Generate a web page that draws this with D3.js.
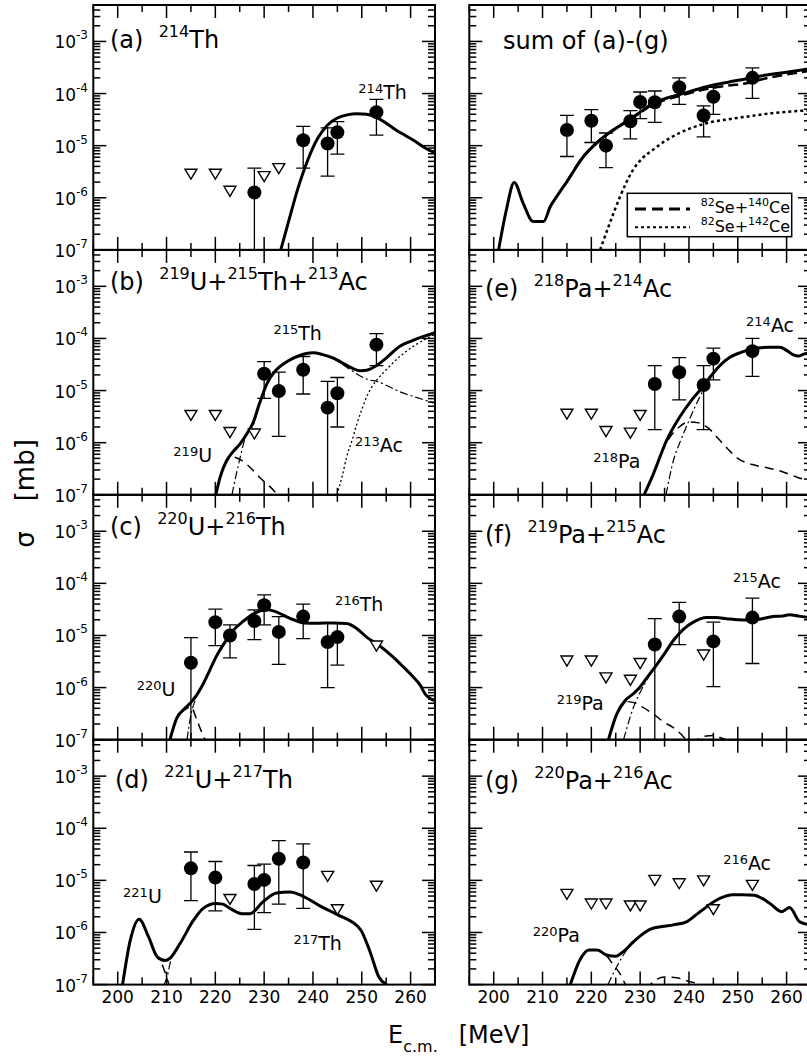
<!DOCTYPE html>
<html>
<head>
<meta charset="utf-8">
<script src="https://cdn.jsdelivr.net/npm/d3@7"></script>
<style>
body { margin: 0; background: #fff; }
svg { display: block; font-family: "DejaVu Sans", sans-serif; }
text { white-space: pre; }
</style>
</head>
<body>
<svg width="807" height="1059"></svg>
<script>
const eDomain = [195, 265];
const sigmaDomain = [1e-7, 5e-3];
const xTickValues = [200, 210, 220, 230, 240, 250, 260];
const yTickExps = [-7, -6, -5, -4, -3];

// measured points: [E, sigma, lower, upper]; limits: [E, sigma]; curves: [E, sigma]
// (a) 214Th
const aMeas = [[228, 1.26e-6, 1e-8, 3.7e-6], [238, 1.27e-5, 3.7e-6, 2.35e-5], [243, 1.1e-5, 2.6e-6, 2.2e-5],
  [245, 1.8e-5, 6.9e-6, 2.9e-5], [253, 4.4e-5, 1.6e-5, 7.7e-5]];
const aLim = [[215, 2.9e-6], [220, 2.9e-6], [223, 1.36e-6], [230, 2.6e-6], [233, 3.7e-6]];
const aTotal = [[233.4, 1e-7], [235, 3.5e-7], [237, 1.6e-6], [239, 5.5e-6], [241, 1.4e-5], [243, 2.5e-5], [245, 3.4e-5],
  [247, 3.9e-5], [249, 4.1e-5], [251, 4.0e-5], [253, 3.5e-5], [255, 2.7e-5], [257, 2.0e-5], [259, 1.55e-5],
  [261, 1.2e-5], [263, 9.0e-6], [265, 7.2e-6]];

// (b) 219U + 215Th + 213Ac
const bMeas = [[230, 2.1e-5, 7.1e-6, 3.6e-5], [233, 9.8e-6, 1.32e-6, 2.25e-5], [238, 2.5e-5, 8.6e-6, 4.5e-5],
  [243, 4.7e-6, 1e-8, 1.5e-5], [245, 8.9e-6, 2.0e-6, 1.78e-5], [253, 7.6e-5, 3.0e-5, 1.24e-4]];
const bLim = [[215, 3.4e-6], [220, 3.4e-6], [223, 1.6e-6], [228, 1.5e-6]];
const bTotal = [[220.1, 1e-7], [221, 2.2e-7], [222.3, 4.5e-7], [223.5, 6.5e-7], [225.1, 9.6e-7], [226.5, 1.5e-6],
  [227.8, 2.5e-6], [229, 5.5e-6], [230.6, 1.38e-5], [232.5, 2.5e-5], [234.7, 3.6e-5], [237, 4.6e-5], [240, 5.3e-5],
  [242, 4.9e-5], [244.2, 4.2e-5], [246, 3.4e-5], [248, 2.7e-5], [249.7, 2.4e-5], [251, 2.45e-5], [253, 3.0e-5],
  [255, 4.2e-5], [257.8, 7.1e-5], [260, 8.8e-5], [262.5, 1.08e-4], [265, 1.29e-4]];
const bU = [[220.1, 1e-7], [221, 2.2e-7], [222.3, 4.4e-7], [223.7, 5.3e-7], [225, 4.8e-7], [226.5, 3.8e-7],
  [227.8, 2.9e-7], [229.2, 2.1e-7], [230.6, 1.6e-7], [232, 1.2e-7], [233, 9e-8]];
const bTh = [[223.4, 1e-7], [224.3, 2.5e-7], [225.1, 5.3e-7], [226.4, 1.5e-6], [227.8, 2.2e-6], [229, 5.3e-6],
  [230.6, 1.36e-5], [232.5, 2.5e-5], [234.7, 3.6e-5], [237, 4.6e-5], [240, 5.3e-5], [242, 4.9e-5], [244.2, 4.1e-5],
  [246, 3.2e-5], [248, 2.4e-5], [249.7, 1.9e-5], [251.5, 1.6e-5], [253.1, 1.5e-5], [255.5, 1.2e-5],
  [257.8, 9.5e-6], [261, 7.5e-6], [265, 5.7e-6]];
const bAc = [[244.9, 1e-7], [246, 2.3e-7], [246.9, 5.3e-7], [248, 1.1e-6], [249, 2.3e-6], [250, 4.3e-6],
  [251, 7.6e-6], [252, 1.15e-5], [253.1, 1.6e-5], [255, 2.5e-5], [257.8, 4.5e-5], [261, 7.5e-5], [265, 1.2e-4]];

// (c) 220U + 216Th
const cMeas = [[215, 3.0e-6, 1e-8, 9.1e-6], [220, 1.8e-5, 6.4e-6, 3.2e-5], [223, 1.0e-5, 3.7e-6, 1.6e-5],
  [228, 1.9e-5, 8.3e-6, 3.1e-5], [230, 3.8e-5, 1.6e-5, 6.0e-5], [233, 1.17e-5, 2.8e-6, 2.3e-5],
  [238, 2.3e-5, 8.7e-6, 4.0e-5], [243, 7.5e-6, 1.0e-6, 1.7e-5], [245, 9.3e-6, 2.7e-6, 1.7e-5]];
const cLim = [[253, 6.4e-6]];
const cTotal = [[210.7, 1e-7], [212.1, 2.6e-7], [213.5, 3.8e-7], [215, 5.2e-7], [216.3, 7.5e-7], [217.5, 1.17e-6],
  [218.8, 2.1e-6], [220.1, 3.8e-6], [222, 7.5e-6], [223.7, 1.26e-5], [225.8, 1.9e-5], [227.8, 2.6e-5],
  [230.6, 3.1e-5], [232.2, 2.9e-5], [233.9, 2.45e-5], [236, 2.0e-5], [238.1, 1.74e-5], [241, 1.72e-5],
  [244.2, 1.74e-5], [246.9, 1.7e-5], [249, 1.35e-5], [251, 9.3e-6], [253.5, 6.5e-6], [256.5, 3.8e-6],
  [258.5, 2.5e-6], [260.6, 1.58e-6], [262, 1.1e-6], [263, 7.5e-7], [264, 6.2e-7], [265, 5.6e-7]];
const cU = [[210.7, 1e-7], [212.1, 2.6e-7], [213.5, 3.6e-7], [215, 4.3e-7], [216.2, 2.4e-7], [217.2, 1.4e-7], [217.9, 1e-7]];
const cTh = [[214.2, 1e-7], [215, 3.0e-7], [215.8, 5.5e-7], [216.5, 8.3e-7], [217.5, 1.15e-6], [218.8, 2.1e-6], [220.1, 3.8e-6]];

// (d) 221U + 217Th
const dMeas = [[215, 1.7e-5, 4.1e-6, 3.5e-5], [220, 1.13e-5, 2.6e-6, 2.3e-5], [228, 8.5e-6, 1.15e-6, 1.93e-5],
  [230, 1.02e-5, 2.4e-6, 2.05e-5], [233, 2.6e-5, 3.5e-6, 5.8e-5], [238, 2.2e-5, 2.9e-6, 5.0e-5]];
const dLim = [[223, 4.4e-6], [243, 1.22e-5], [245, 2.8e-6], [253, 7.9e-6]];
const dTotal = [[201, 1e-7], [202.5, 6.6e-7], [204.4, 1.8e-6], [206.3, 8.3e-7], [208.1, 3.4e-7], [209.7, 2.9e-7],
  [210.7, 3.2e-7], [212.8, 6.2e-7], [215.5, 1.7e-6], [217.5, 2.9e-6], [220.1, 3.6e-6], [221.5, 3.5e-6],
  [223, 2.9e-6], [225.4, 2.3e-6], [227.1, 2.3e-6], [229.8, 3.9e-6], [232.5, 5.7e-6], [235.3, 6.0e-6],
  [238.1, 4.9e-6], [241.5, 3.2e-6], [245, 2.2e-6], [249.7, 1.15e-6], [251.8, 4.0e-7], [253.5, 1.4e-7], [255.1, 1e-7]];
const dU = [[201, 1e-7], [202.5, 6.6e-7], [204.4, 1.8e-6], [206.3, 8.3e-7], [208.1, 3.4e-7], [209.2, 2.3e-7],
  [210, 1.4e-7], [210.5, 1e-7]];
const dTh = [[209.5, 1e-7], [210.2, 1.5e-7], [210.7, 2.5e-7], [212.8, 6.2e-7], [215.5, 1.7e-6]];

// sum of (a)-(g)
const sMeas = [[215, 2.0e-5, 6.2e-6, 3.8e-5], [220, 3.0e-5, 1.15e-5, 4.9e-5], [223, 1.0e-5, 3.8e-6, 1.75e-5],
  [228, 2.95e-5, 1.35e-5, 4.7e-5], [230, 6.9e-5, 3.3e-5, 1.07e-4], [233, 6.8e-5, 2.8e-5, 1.12e-4],
  [238, 1.32e-4, 6.2e-5, 2.0e-4], [243, 3.8e-5, 1.47e-5, 5.8e-5], [245, 8.7e-5, 4.0e-5, 1.32e-4],
  [253, 2.0e-4, 8.1e-5, 3.1e-4]];
const sTotal = [[201, 1e-7], [202.6, 5.9e-7], [204.2, 1.96e-6], [206, 8e-7], [208.1, 3.5e-7], [210.2, 3.5e-7],
  [211.6, 6.8e-7], [213.3, 1.2e-6], [215, 2.05e-6], [218.4, 6.2e-6], [220.5, 1.0e-5], [223.1, 1.62e-5],
  [225.5, 2.3e-5], [227.9, 3.2e-5], [230.3, 4.6e-5], [232.8, 6.6e-5], [235.5, 8.2e-5], [238.1, 9.6e-5],
  [243.6, 1.35e-4], [248, 1.65e-4], [251.8, 1.92e-4], [255, 2.2e-4], [258.5, 2.45e-4], [262.7, 2.8e-4], [265, 3.0e-4]];
const sSe140 = [[215, 2.05e-6], [218.4, 6.2e-6], [220.5, 1.0e-5], [223.1, 1.62e-5], [225.5, 2.3e-5],
  [227.9, 3.15e-5], [230.3, 4.45e-5], [232.8, 6.3e-5], [235.5, 7.7e-5], [238.1, 9.0e-5], [243.6, 1.22e-4],
  [248, 1.42e-4], [251.8, 1.58e-4], [255, 1.88e-4], [258.5, 2.2e-4], [262.7, 2.55e-4], [265, 2.75e-4]];
const sSe142 = [[221.8, 1e-7], [223.8, 3.3e-7], [225.9, 1.06e-6], [228.6, 3.5e-6], [230.5, 5.8e-6], [232.7, 8.4e-6],
  [235.5, 1.3e-5], [238.1, 1.75e-5], [243.6, 2.7e-5], [248, 3.2e-5], [251.8, 3.6e-5], [257, 4.2e-5],
  [263.4, 4.7e-5], [265, 4.8e-5]];

// (e) 218Pa + 214Ac
const eMeas = [[233, 1.34e-5, 1.78e-6, 3.0e-5], [238, 2.25e-5, 6.6e-6, 4.3e-5], [243, 1.28e-5, 1.78e-6, 3.0e-5],
  [245, 4.1e-5, 1.6e-5, 6.5e-5], [253, 5.7e-5, 1.87e-5, 1.0e-4]];
const eLim = [[215, 3.6e-6], [220, 3.6e-6], [223, 1.67e-6], [228, 1.56e-6], [230, 3.4e-6]];
const eTotal = [[230.8, 1e-7], [232.7, 2.5e-7], [235.4, 1.1e-6], [238.1, 3.1e-6], [240.5, 6.5e-6], [242.9, 1.2e-5],
  [244.5, 1.9e-5], [246.3, 3.0e-5], [248.3, 4.3e-5], [250.4, 5.3e-5], [252.5, 6.1e-5], [254.5, 6.6e-5],
  [256.5, 6.8e-5], [258.6, 6.8e-5], [260, 5.9e-5], [261.3, 4.9e-5], [262.5, 4.6e-5], [263.5, 5.0e-5], [265, 5.3e-5]];
const ePa = [[230.8, 1e-7], [232.7, 2.5e-7], [235.4, 1.0e-6], [238, 2.0e-6], [240, 2.5e-6], [242, 2.4e-6],
  [244, 1.9e-6], [246, 1.2e-6], [248, 7.5e-7], [250, 5.0e-7], [253, 3.8e-7], [256, 3.3e-7], [259, 2.8e-7],
  [262, 2.2e-7], [265, 1.8e-7]];
const eAc = [[235.3, 1e-7], [236.8, 4.5e-7], [238.3, 1.1e-6], [239.8, 2.4e-6], [241.3, 5.0e-6], [242.9, 1.0e-5],
  [244.5, 1.75e-5], [246.3, 2.9e-5], [248.3, 4.2e-5], [250.4, 5.25e-5]];

// (f) 219Pa + 215Ac
const fMeas = [[233, 6.7e-6, 1e-8, 2.1e-5], [238, 2.3e-5, 6.7e-6, 4.3e-5], [245, 7.7e-6, 1.04e-6, 1.8e-5],
  [253, 2.2e-5, 2.9e-6, 5.2e-5]];
const fLim = [[215, 3.3e-6], [220, 3.3e-6], [223, 1.57e-6], [228, 1.41e-6], [230, 2.96e-6], [243, 4.3e-6]];
const fTotal = [[223.5, 1e-7], [225.2, 3.1e-7], [226.9, 5.6e-7], [228.5, 7.5e-7], [229.9, 1.0e-6], [231.5, 1.6e-6],
  [233, 2.45e-6], [235, 4.5e-6], [236.8, 8.0e-6], [238.8, 1.3e-5], [240.9, 1.8e-5], [243.6, 2.2e-5],
  [245.5, 2.2e-5], [247.7, 2.1e-5], [250, 2.0e-5], [252.8, 1.96e-5], [255, 2.1e-5], [257.2, 2.3e-5],
  [259, 2.35e-5], [260.6, 2.5e-5], [262.5, 2.35e-5], [265, 2.2e-5]];
const fPa = [[223.5, 1e-7], [225.2, 3.1e-7], [226.9, 5.4e-7], [228.5, 5.2e-7], [230.5, 4.2e-7], [232.7, 3.1e-7],
  [234.8, 2.2e-7], [236.8, 1.7e-7], [238.3, 1.3e-7], [239.6, 1e-7], [241, 9.5e-8], [243, 1.15e-7],
  [245, 1.2e-7], [247, 1.05e-7], [249, 9e-8]];
const fAc = [[226.6, 1e-7], [228.6, 4.1e-7], [230.5, 1.0e-6], [232.5, 2.1e-6], [234, 3.4e-6], [236.8, 7.9e-6]];

// (g) 220Pa + 216Ac
const gLim = [[215, 5.5e-6], [220, 3.6e-6], [223, 3.6e-6], [228, 3.3e-6], [230, 3.3e-6], [233, 1.02e-5],
  [238, 8.8e-6], [243, 1.0e-5], [245, 2.8e-6], [253, 8.2e-6]];
const gTotal = [[215.7, 1e-7], [217.6, 2.9e-7], [219.5, 4.6e-7], [221.2, 4.6e-7], [223.1, 3.7e-7], [225, 3.5e-7],
  [226.8, 4.5e-7], [228.6, 6.6e-7], [230.3, 9.0e-7], [232, 1.15e-6], [234.5, 1.3e-6], [236.8, 1.4e-6],
  [239.5, 1.6e-6], [241.5, 2.2e-6], [243.6, 3.1e-6], [246.3, 4.5e-6], [249, 5.3e-6], [251, 5.3e-6],
  [253.4, 5.2e-6], [255, 4.5e-6], [256.6, 3.6e-6], [259, 2.5e-6], [260.6, 3.0e-6], [262.7, 1.6e-6], [265, 1.4e-6]];
const gPa = [[215.7, 1e-7], [217.6, 2.9e-7], [219.5, 4.6e-7], [221.2, 4.6e-7], [223.1, 3.6e-7], [224.5, 2.4e-7],
  [225.9, 1.6e-7], [227, 1e-7], [228, 7e-8], [231, 8e-8], [233, 1.2e-7], [235, 1.4e-7], [237.5, 1.35e-7],
  [240, 1.15e-7], [242, 1.0e-7], [243, 8e-8]];
const gAc = [[223.4, 1e-7], [225.2, 2.2e-7], [226.8, 4.0e-7], [228.6, 6.4e-7], [230.3, 8.9e-7], [232, 1.14e-6]];

const svg = d3.select("svg");
const pw = 341.7, ph = 244.9;
const colX = [93.3, 469.3];
const rowY = [5, 249.9, 494.8, 739.7];

const x = d3.scaleLinear().domain(eDomain).range([0, pw]);
const y = d3.scaleLog().domain(sigmaDomain).range([ph, 0]);
const line = d3.line().x(d => x(d[0])).y(d => y(d[1])).curve(d3.curveMonotoneX);

const styles = {
  solid: { w: 3, dash: null },
  dash: { w: 1.5, dash: "9,6" },
  dashdot: { w: 1.2, dash: "8,3,2,3" },
  dot: { w: 1.3, dash: "2,2.5" },
  dashThick: { w: 2.5, dash: "10,5" },
  dotThick: { w: 2.5, dash: "3,3" }
};

svg.append("defs").append("clipPath").attr("id", "clip")
  .append("rect").attr("width", pw).attr("height", ph);

// text with "^" superscript parts
function rich(g, parts, x0, y0, size, supSize, rise, anchor) {
  const t = g.append("text").attr("x", x0).attr("y", y0)
    .attr("font-size", size).attr("text-anchor", anchor || "start");
  let up = false;
  parts.forEach(p => {
    const sup = p[0] === "^";
    const s = t.append("tspan").text(sup ? p.slice(1) : p);
    if (sup) s.attr("font-size", supSize);
    if (sup && !up) { s.attr("dy", -rise); up = true; }
    else if (!sup && up) { s.attr("dy", rise); up = false; }
  });
  return t;
}

const panels = [
  { col: 0, row: 0, meas: aMeas, lim: aLim, curves: [[aTotal, "solid"]],
    title: ["(a)  ", "^214", "Th"], tp: [16.7, 43], notes: [[["^214", "Th"], 249.3, 7.7e-5]] },
  { col: 0, row: 1, meas: bMeas, lim: bLim, curves: [[bU, "dash"], [bTh, "dashdot"], [bAc, "dot"], [bTotal, "solid"]],
    title: ["(b)  ", "^219", "U+", "^215", "Th+", "^213", "Ac"], tp: [16.7, 40.1],
    notes: [[["^215", "Th"], 231.9, 9.5e-5], [["^219", "U"], 211.4, 4.2e-7], [["^213", "Ac"], 248.6, 6.6e-7]] },
  { col: 0, row: 2, meas: cMeas, lim: cLim, curves: [[cU, "dash"], [cTh, "dashdot"], [cTotal, "solid"]],
    title: ["(c)  ", "^220", "U+", "^216", "Th"], tp: [16.7, 40.2],
    notes: [[["^216", "Th"], 244.5, 2.9e-5], [["^220", "U"], 203.9, 6.9e-7]] },
  { col: 0, row: 3, meas: dMeas, lim: dLim, curves: [[dU, "dash"], [dTh, "dashdot"], [dTotal, "solid"]],
    title: ["(d)  ", "^221", "U+", "^217", "Th"], tp: [21.7, 48.6],
    notes: [[["^221", "U"], 201.1, 3.7e-6], [["^217", "Th"], 236, 4.6e-7]] },
  { col: 1, row: 0, meas: sMeas, lim: [], curves: [[sSe142, "dotThick"], [sSe140, "dashThick"], [sTotal, "solid"]],
    title: ["sum of (a)-(g)"], tp: [33.7, 44], notes: [], legend: true },
  { col: 1, row: 1, meas: eMeas, lim: eLim, curves: [[ePa, "dash"], [eAc, "dashdot"], [eTotal, "solid"]],
    title: ["(e)  ", "^218", "Pa+", "^214", "Ac"], tp: [15.7, 46.8],
    notes: [[["^214", "Ac"], 251.7, 1.3e-4], [["^218", "Pa"], 220.4, 3.2e-7]] },
  { col: 1, row: 2, meas: fMeas, lim: fLim, curves: [[fPa, "dash"], [fAc, "dashdot"], [fTotal, "solid"]],
    title: ["(f)  ", "^219", "Pa+", "^215", "Ac"], tp: [15.7, 48.5],
    notes: [[["^215", "Ac"], 249.0, 8.0e-5], [["^219", "Pa"], 212.9, 3.7e-7]] },
  { col: 1, row: 3, meas: [], lim: gLim, curves: [[gPa, "dash"], [gAc, "dashdot"], [gTotal, "solid"]],
    title: ["(g)  ", "^220", "Pa+", "^216", "Ac"], tp: [15.7, 49.6],
    notes: [[["^216", "Ac"], 247.0, 1.6e-5], [["^220", "Pa"], 208, 6.6e-7]] }
];

const isDecade = v => Math.abs(Math.log10(v) - Math.round(Math.log10(v))) < 1e-6;

panels.forEach(p => {
  const g = svg.append("g").attr("transform", `translate(${colX[p.col]},${rowY[p.row]})`);
  const plot = g.append("g").attr("clip-path", "url(#clip)");

  p.curves.forEach(c => {
    const st = styles[c[1]];
    plot.append("path").datum(c[0])
      .attr("d", line)
      .attr("fill", "none")
      .attr("stroke", "#000")
      .attr("stroke-width", st.w)
      .attr("stroke-dasharray", st.dash);
  });

  // error bars
  plot.selectAll(".err").data(p.meas).enter().append("line")
    .attr("x1", d => x(d[0])).attr("x2", d => x(d[0]))
    .attr("y1", d => y(d[2])).attr("y2", d => y(d[3]))
    .attr("stroke", "#000").attr("stroke-width", 1.3);
  const caps = [];
  p.meas.forEach(d => {
    caps.push([d[0], d[3]]);
    if (d[2] >= sigmaDomain[0]) caps.push([d[0], d[2]]);
  });
  plot.selectAll(".cap").data(caps).enter().append("line")
    .attr("x1", d => x(d[0]) - 7).attr("x2", d => x(d[0]) + 7)
    .attr("y1", d => y(d[1])).attr("y2", d => y(d[1]))
    .attr("stroke", "#000").attr("stroke-width", 1.3);
  plot.selectAll(".pt").data(p.meas).enter().append("circle")
    .attr("cx", d => x(d[0])).attr("cy", d => y(d[1])).attr("r", 7).attr("fill", "#000");

  // upper limits
  plot.selectAll(".lim").data(p.lim).enter().append("path")
    .attr("transform", d => `translate(${x(d[0])},${y(d[1])})`)
    .attr("d", "M-6,-4.5L6,-4.5L0,5.5Z")
    .attr("fill", "#fff").attr("stroke", "#000").attr("stroke-width", 1.4);

  // ticks on all four sides, pointing inward
  const tk = g.append("g").attr("stroke", "#000").attr("stroke-width", 1.5);
  x.ticks(14).forEach(v => {
    const len = v % 10 === 0 ? 13 : 7;
    tk.append("line").attr("x1", x(v)).attr("x2", x(v)).attr("y1", ph).attr("y2", ph - len);
    tk.append("line").attr("x1", x(v)).attr("x2", x(v)).attr("y1", 0).attr("y2", len);
  });
  y.ticks().forEach(v => {
    const len = isDecade(v) ? 13 : 7;
    tk.append("line").attr("x1", 0).attr("x2", len).attr("y1", y(v)).attr("y2", y(v));
    tk.append("line").attr("x1", pw).attr("x2", pw - len).attr("y1", y(v)).attr("y2", y(v));
  });

  g.append("rect").attr("width", pw).attr("height", ph)
    .attr("fill", "none").attr("stroke", "#000").attr("stroke-width", 2);

  rich(g, p.title, p.tp[0], p.tp[1], 24, 16, 11);
  p.notes.forEach(n => rich(g, n[0], x(n[1]), y(n[2]), 19, 13, 6));

  if (p.col === 0) {
    yTickExps.forEach(e => rich(g, ["10", "^-" + (-e)], -5.3, y(Math.pow(10, e)) + 7, 17, 12, 9, "end"));
  }
  if (p.row === 3) {
    g.selectAll(".xl").data(xTickValues).enter().append("text")
      .attr("x", d => x(d)).attr("y", ph + 18.5)
      .attr("font-size", 17).attr("text-anchor", "middle").text(d => d);
  }

  if (p.legend) {
    const lg = g.append("g").attr("transform", "translate(158,188.3)");
    lg.append("rect").attr("width", 164.4).attr("height", 43.4)
      .attr("fill", "#fff").attr("stroke", "#000").attr("stroke-width", 1.5);
    lg.append("line").attr("x1", 7.7).attr("x2", 62.7).attr("y1", 15.7).attr("y2", 15.7)
      .attr("stroke", "#000").attr("stroke-width", 3).attr("stroke-dasharray", "11,6");
    lg.append("line").attr("x1", 7.7).attr("x2", 62.7).attr("y1", 34).attr("y2", 34)
      .attr("stroke", "#000").attr("stroke-width", 2).attr("stroke-dasharray", "3,3");
    rich(lg, ["^82", "Se+", "^140", "Ce"], 73.4, 20, 16, 11, 7);
    rich(lg, ["^82", "Se+", "^142", "Ce"], 73.4, 38.4, 16, 11, 7);
  }
});

// axis titles
const yl = svg.append("text").attr("transform", "translate(34,493.5) rotate(-90)")
  .attr("font-size", 26).attr("text-anchor", "middle");
yl.append("tspan").text("σ");
yl.append("tspan").attr("dx", 30).text("[mb]");

const xl = svg.append("text").attr("x", 388).attr("y", 1043).attr("font-size", 24);
xl.append("tspan").text("E");
xl.append("tspan").attr("font-size", 16).attr("dy", 9).text("c.m.");
xl.append("tspan").attr("dy", -9).attr("dx", 21).text("[MeV]");
</script>
</body>
</html>
